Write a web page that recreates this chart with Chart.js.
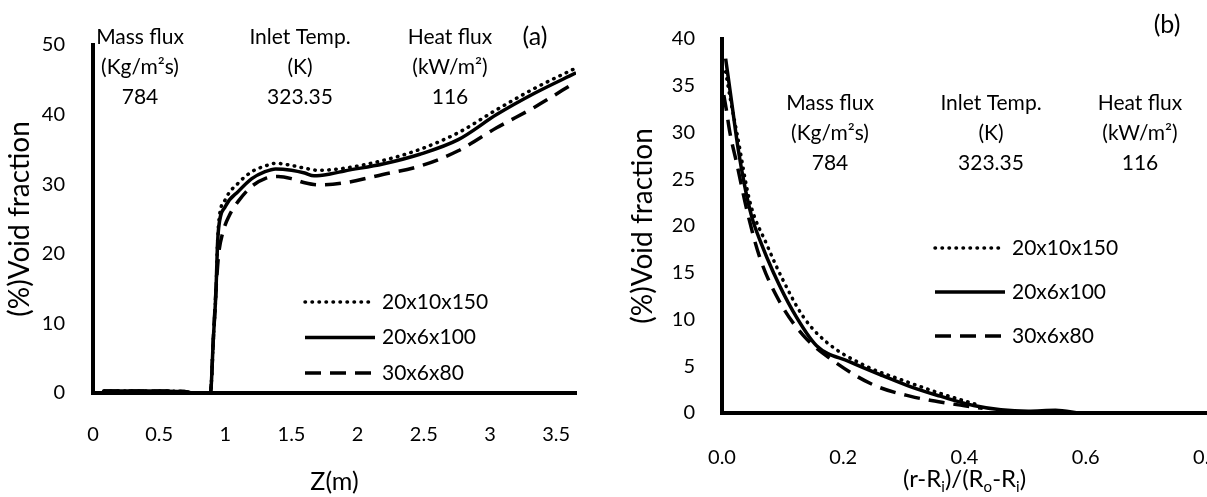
<!DOCTYPE html>
<html>
<head>
<meta charset="utf-8">
<script src="https://cdn.jsdelivr.net/npm/chart.js@4.4.1/dist/chart.umd.min.js"></script>
<style>
  html, body { margin: 0; padding: 0; background: #fff; overflow: hidden; }
  body { width: 1207px; height: 497px; position: relative; }
  #chart-a { position: absolute; left: 0; top: 0; }
  #chart-b { position: absolute; left: 600px; top: 0; }
</style>
</head>
<body>
<canvas id="chart-a" width="600" height="497"></canvas>
<canvas id="chart-b" width="640" height="497"></canvas>
<script>
// ---- (a) axial void fraction ----
const axialZ150  = [0.08, 0.4, 0.69, 0.75, 0.887, 0.91, 0.93, 0.94, 0.95, 1.0, 1.1, 1.2, 1.3, 1.38, 1.5, 1.6, 1.7, 1.9, 2.19, 2.47, 2.76, 3.05, 3.34, 3.65];
const axialVf150 = [0.3, 0.3, 0.2, 0, 0, 8, 15, 21, 24.5, 27.8, 30.2, 31.8, 32.6, 33.0, 32.7, 32.3, 32.0, 32.3, 33.4, 35.0, 37.4, 40.7, 43.8, 46.7];
const axialZ100  = [0.08, 0.4, 0.69, 0.75, 0.887, 0.91, 0.93, 0.94, 0.95, 1.0, 1.1, 1.2, 1.3, 1.38, 1.5, 1.6, 1.67, 1.8, 1.9, 2.19, 2.47, 2.76, 3.05, 3.34, 3.65];
const axialVf100 = [0.3, 0.3, 0.2, 0, 0, 8, 15, 21, 23.8, 26.8, 29, 30.8, 31.8, 32.2, 32.0, 31.6, 31.2, 31.5, 31.9, 32.9, 34.3, 36.4, 40.0, 43.1, 46.0];
const axialZ80   = [0.08, 0.4, 0.69, 0.75, 0.887, 0.91, 0.93, 0.95, 0.98, 1.03, 1.1, 1.2, 1.3, 1.4, 1.5, 1.6, 1.7, 1.9, 2.19, 2.47, 2.76, 3.05, 3.34, 3.65];
const axialVf80  = [0.3, 0.3, 0.2, 0, 0, 8, 15, 20, 23, 25.5, 27.6, 29.7, 30.8, 31.1, 30.8, 30.2, 29.9, 30.2, 31.4, 32.6, 34.8, 38.1, 41.1, 44.7];
const zTicks  = [0, 0.5, 1, 1.5, 2, 2.5, 3, 3.5];
const zLabels = ['0', '0.5', '1', '1.5', '2', '2.5', '3', '3.5'];
const vfTicksA = [0, 10, 20, 30, 40, 50];

// ---- (b) radial void fraction ----
const radialR150  = [0.006, 0.014, 0.025, 0.046, 0.074, 0.10, 0.134, 0.172, 0.238, 0.298, 0.36, 0.42];
const radialVf150 = [36.5, 33.5, 29.8, 22.6, 18.0, 14.3, 10.3, 7.6, 5.0, 3.5, 2.1, 0.9];
const radialR100  = [0.006, 0.016, 0.027, 0.038, 0.049, 0.063, 0.085, 0.117, 0.156, 0.21, 0.265, 0.32, 0.36, 0.415, 0.46, 0.505, 0.55, 0.59];
const radialVf100 = [37.9, 33.2, 28.1, 24.1, 21.0, 18.4, 15.0, 10.9, 7.2, 5.5, 4.0, 2.6, 1.8, 0.8, 0.35, 0.2, 0.3, 0.0];
const radialR80   = [0.003, 0.007, 0.013, 0.025, 0.041, 0.062, 0.095, 0.134, 0.183, 0.25, 0.31, 0.377, 0.43];
const radialVf80  = [34.0, 32.5, 30.0, 26.5, 21.7, 16.7, 11.9, 8.3, 5.6, 3.0, 1.8, 1.0, 0.5];
const rTicks  = [0, 0.2, 0.4, 0.6, 0.8];
const rLabels = ['0.0', '0.2', '0.4', '0.6', '0.8'];
const vfTicksB = [0, 5, 10, 15, 20, 25, 30, 35, 40];

const meshNames = ['20x10x150', '20x6x100', '30x6x80'];
const headerText = [
  ['Mass flux', '(Kg/m\u00b2s)', '784'],
  ['Inlet Temp.', '(K)', '323.35'],
  ['Heat flux', '(kW/m\u00b2)', '116']
];
// x title of (b), [text, isSubscript]
const radialTitle = [['(r-R', 0], ['i', 1], [')/(R', 0], ['o', 1], ['-R', 0], ['i', 1], [')', 0]];

const FONT = 'Lato';
const lineBase = { borderColor: '#000', pointRadius: 0, fill: false, cubicInterpolationMode: 'monotone' };
const styles = [
  { ...lineBase, borderWidth: 3.5, borderDash: [0.5, 6.5], borderCapStyle: 'round' },
  { ...lineBase, borderWidth: 3.5 },
  { ...lineBase, borderWidth: 3.5, borderDash: [16, 9], borderCapStyle: 'butt' }
];

function series(i, xs, ys) {
  return { label: meshNames[i], data: xs.map((x, k) => ({ x: x, y: ys[k] })), ...styles[i] };
}

// header block, panel tag and legend drawn onto the plot
const annotate = {
  id: 'annotate',
  afterDraw(chart, args, o) {
    const ctx = chart.ctx;
    ctx.save();
    ctx.fillStyle = '#000';
    ctx.textBaseline = 'middle';
    ctx.textAlign = 'center';
    ctx.font = '21px ' + FONT;
    headerText.forEach((col, i) => {
      col.forEach((line, j) => ctx.fillText(line, o.headX[i], o.headY + j * o.headGap));
    });
    ctx.font = '25px ' + FONT;
    ctx.fillText(o.tag, o.tagX, o.tagY);

    chart.data.datasets.forEach((ds, i) => {
      const y = o.legY + i * o.legGap;
      ctx.beginPath();
      ctx.strokeStyle = ds.borderColor;
      ctx.lineWidth = ds.borderWidth;
      ctx.lineCap = ds.borderCapStyle || 'butt';
      ctx.setLineDash(ds.borderDash || []);
      ctx.moveTo(o.legX0, y);
      ctx.lineTo(o.legX1, y);
      ctx.stroke();
      ctx.setLineDash([]);
      ctx.textAlign = 'left';
      ctx.font = '21px ' + FONT;
      ctx.fillText(ds.label, o.legX1 + 7, y);
    });

    if (o.subTitle) {
      const big = '24px ' + FONT, small = '15px ' + FONT;
      let total = 0;
      o.subTitle.forEach(([t, sub]) => { ctx.font = sub ? small : big; total += ctx.measureText(t).width; });
      let x = (chart.chartArea.left + chart.chartArea.right) / 2 - total / 2;
      ctx.textAlign = 'left';
      o.subTitle.forEach(([t, sub]) => {
        ctx.font = sub ? small : big;
        ctx.fillText(t, x, o.subTitleY + (sub ? 8 : 0));
        x += ctx.measureText(t).width;
      });
    }
    ctx.restore();
  }
};

function axis(min, max, ticks, labels, pad, extra) {
  return Object.assign({
    type: 'linear', min: min, max: max,
    grid: { display: false, drawTicks: false },
    border: { display: true, color: '#000', width: 4 },
    afterBuildTicks: s => { s.ticks = ticks.map(v => ({ value: v })); },
    ticks: {
      color: '#000', padding: pad, autoSkip: false, maxRotation: 0,
      font: { family: FONT, size: 20 },
      callback: (v, i) => labels[i]
    }
  }, extra);
}

// fixed axis box; layout padding alone decides where the plot ends
function fixHeight(h) {
  return s => { s.height = h; s.paddingLeft = 0; s.paddingRight = 0; };
}

Chart.defaults.font.family = FONT;

new Chart(document.getElementById('chart-a'), {
  type: 'line',
  data: {
    datasets: [
      series(0, axialZ150, axialVf150),
      series(1, axialZ100, axialVf100),
      series(2, axialZ80, axialVf80)
    ]
  },
  options: {
    responsive: false,
    animation: false,
    layout: { padding: { left: 0, top: 45, right: 24, bottom: 0 } },
    scales: {
      x: axis(0, 3.65, zTicks, zLabels, 30, {
        title: { display: true, text: 'Z(m)', color: '#000', font: { family: FONT, size: 25 }, padding: { top: 0, bottom: 0 } },
        afterFit: fixHeight(104)
      }),
      y: axis(0, 50, vfTicksA, vfTicksA.map(String), 28, {
        title: { display: true, text: '(%)Void fraction', color: '#000', font: { family: FONT, size: 28 }, padding: { top: 3, bottom: 0 } },
        afterFit: s => { s.width = 93; }
      })
    },
    plugins: {
      legend: { display: false },
      tooltip: { enabled: false },
      annotate: {
        headX: [140, 300, 450], headY: 37, headGap: 30,
        tag: '(a)', tagX: 535, tagY: 37,
        legX0: 305, legX1: 375, legY: 302, legGap: 35.5
      }
    }
  },
  plugins: [annotate]
});

new Chart(document.getElementById('chart-b'), {
  type: 'line',
  data: {
    datasets: [
      series(0, radialR150, radialVf150),
      series(1, radialR100, radialVf100),
      series(2, radialR80, radialVf80)
    ]
  },
  options: {
    responsive: false,
    animation: false,
    layout: { padding: { left: 0, top: 18, right: 33, bottom: 0 } },
    scales: {
      x: axis(0, 0.8, rTicks, rLabels, 33, {
        afterFit: fixHeight(84)
      }),
      y: axis(0, 40, vfTicksB, vfTicksB.map(String), 27, {
        title: { display: true, text: '(%)Void fraction', color: '#000', font: { family: FONT, size: 28 }, padding: { top: 26, bottom: 0 } },
        afterFit: s => { s.width = 122; }
      })
    },
    plugins: {
      legend: { display: false },
      tooltip: { enabled: false },
      annotate: {
        headX: [230, 391, 540], headY: 103, headGap: 30,
        tag: '(b)', tagX: 567, tagY: 25,
        legX0: 335, legX1: 405, legY: 248, legGap: 44,
        subTitle: radialTitle, subTitleY: 479
      }
    }
  },
  plugins: [annotate]
});
</script>
</body>
</html>
